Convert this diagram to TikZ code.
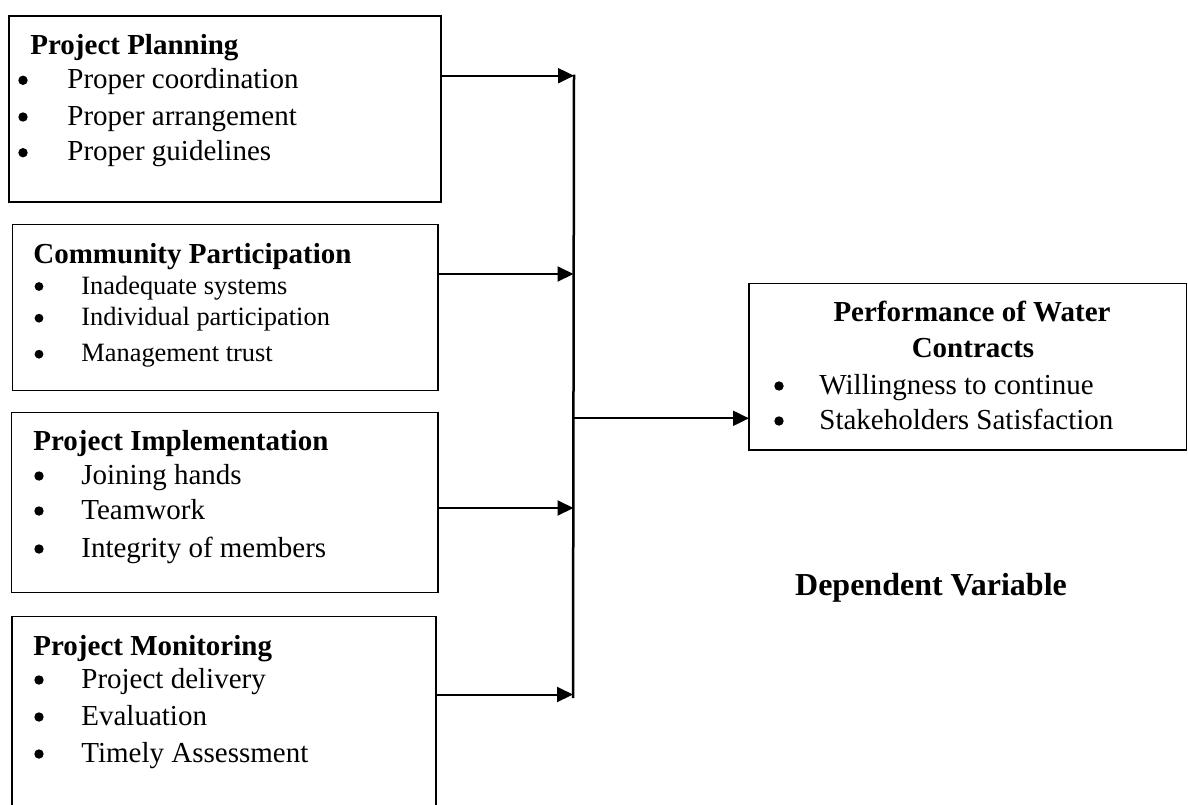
\documentclass[tikz,border=0pt]{standalone}
\usepackage{fontspec}
\setmainfont{Liberation Serif}
\usetikzlibrary{arrows.meta,fit}
\begin{document}
\begin{tikzpicture}[x=0.5pt,y=-0.5pt,
  box/.style={draw, line width=0.75pt, inner sep=0pt, outer sep=0pt, rectangle},
  ttl/.style={anchor=base west, inner sep=0pt, font=\fontsize{14.5}{17}\selectfont\bfseries},
  ctl/.style={anchor=base, inner sep=0pt, font=\fontsize{14.5}{17}\selectfont\bfseries},
  itm/.style={anchor=base west, inner sep=0pt, font=\fontsize{14.5}{17}\selectfont},
  sitm/.style={anchor=base west, inner sep=0pt, font=\fontsize{13.2}{16}\selectfont},
  bul/.style={circle, fill, draw=none, inner sep=0pt, minimum size=4.7pt},
  sbul/.style={circle, fill, draw=none, inner sep=0pt, minimum size=4.4pt},
  arr/.style={line width=1pt, -{Triangle[length=8pt,width=7.5pt]}},
  bus/.style={line width=1.25pt}]
\useasboundingbox (0,0) rectangle (1188,804);

% boxes
\node[box, fit={(9,16) (441,202)}] (pp) {};
\node[box, fit={(12.3,224.3) (438,390.7)}] (cp) {};
\node[box, fit={(11.7,412.7) (438,592.7)}] (pi) {};
\node[box, fit={(12,616.7) (436,840)}] (pm) {};
\node[box, fit={(749,283.3) (1186.5,450)}] (dv) {};

% Project Planning
\node[ttl] (pp-t) at (30,54) {Project Planning};
\node[bul] (pp-b1) at (23,80.3) {};
\node[bul] (pp-b2) at (23,117) {};
\node[bul] (pp-b3) at (23,152.7) {};
\node[itm] (pp-1) at (67,88.3) {Proper coordination};
\node[itm] (pp-2) at (67,125) {Proper arrangement};
\node[itm] (pp-3) at (67,160.7) {Proper guidelines};

% Community Participation
\node[ttl] (cp-t) at (33,263) {Community Participation};
\node[sbul] (cp-b1) at (39,286.5) {};
\node[sbul] (cp-b2) at (39,318.2) {};
\node[sbul] (cp-b3) at (39,354.2) {};
\node[sitm] (cp-1) at (81,294) {Inadequate systems};
\node[sitm] (cp-2) at (81,325.7) {Individual participation};
\node[sitm] (cp-3) at (81,361.7) {Management trust};

% Project Implementation
\node[ttl] (pi-t) at (33,450) {Project Implementation};
\node[bul] (pi-b1) at (39,476) {};
\node[bul] (pi-b2) at (39,511) {};
\node[bul] (pi-b3) at (39,549) {};
\node[itm] (pi-1) at (81,484) {Joining hands};
\node[itm] (pi-2) at (81,519) {Teamwork};
\node[itm] (pi-3) at (81,557) {Integrity of members};

% Project Monitoring
\node[ttl] (pm-t) at (33,655) {Project Monitoring};
\node[bul] (pm-b1) at (39,680) {};
\node[bul] (pm-b2) at (39,717) {};
\node[bul] (pm-b3) at (39,754) {};
\node[itm] (pm-1) at (81,688) {Project delivery};
\node[itm] (pm-2) at (81,725) {Evaluation};
\node[itm] (pm-3) at (81,762) {Timely Assessment};

% Dependent variable box
\node[ctl] (dv-t1) at (972,321.7) {Performance of Water};
\node[ctl] (dv-t2) at (973,357) {Contracts};
\node[bul] (dv-b1) at (779,386) {};
\node[bul] (dv-b2) at (779,421) {};
\node[itm] (dv-1) at (819,394) {Willingness to continue};
\node[itm] (dv-2) at (819,429) {Stakeholders Satisfaction};

\node[anchor=base, inner sep=0pt, font=\fontsize{16}{19}\selectfont\bfseries] (lbl) at (931,595) {Dependent Variable};

% connectors
\coordinate (b1) at (574,75.7);
\coordinate (b2) at (573.5,274);
\coordinate (b3) at (573.5,508);
\coordinate (b4) at (573,694.5);
\coordinate (bo) at (573.5,418.3);
\coordinate (be) at (573,698);
\draw[bus] (574,74.5) -- (be);
\draw[arr] (pp.east |- b1) -- (b1);
\draw[arr] (cp.east |- b2) -- (b2);
\draw[arr] (pi.east |- b3) -- (b3);
\draw[arr] (pm.east |- b4) -- (b4);
\draw[arr] (bo) -- (dv.west |- bo);
\end{tikzpicture}
\end{document}
